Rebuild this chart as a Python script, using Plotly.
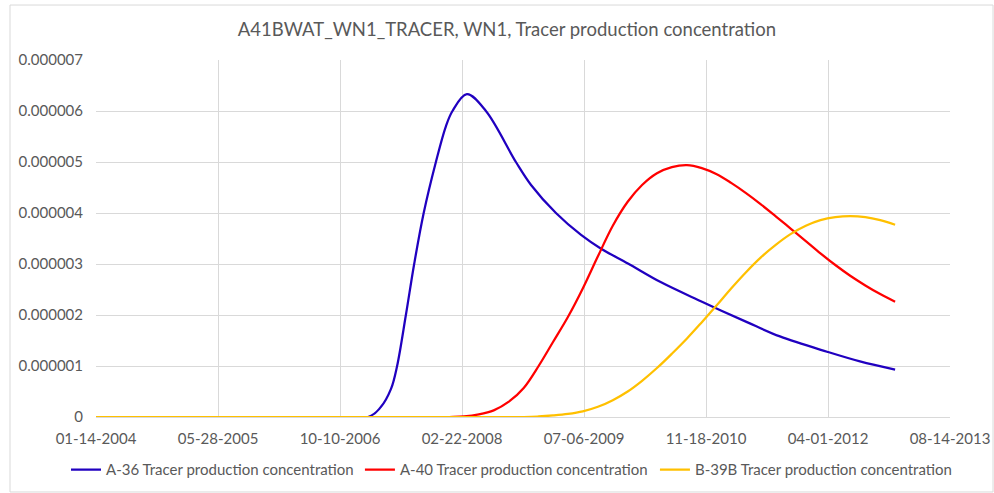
import plotly.graph_objects as go

# Tracer concentrations (values in 1e-6)
a36_dates = ["2004-01-14", "2007-02-02", "2007-03-27", "2007-05-07", "2007-06-01", "2007-07-07",
             "2007-08-10", "2007-09-18", "2007-11-07", "2007-12-18", "2008-01-14", "2008-03-13",
             "2008-05-30", "2008-09-30", "2008-12-01", "2009-03-13", "2009-06-24", "2009-09-14",
             "2010-01-02", "2010-05-18", "2010-10-28", "2011-05-05", "2011-09-17", "2012-03-28",
             "2012-08-10", "2013-01-01"]
a36_vals = [0, 0, 0.2, 0.55, 1.0, 2.0,
            3.0, 4.0, 5.0, 5.7, 6.0, 6.33,
            6.0, 5.0, 4.55, 4.0, 3.57, 3.3,
            3.01, 2.64, 2.27, 1.86, 1.58, 1.28,
            1.09, 0.93]

a40_dates = ["2004-01-14", "2008-01-01", "2008-03-01", "2008-05-01", "2008-07-01", "2008-09-01",
             "2008-11-01", "2009-01-01", "2009-03-01", "2009-05-01", "2009-07-01", "2009-09-01",
             "2009-11-01", "2010-01-01", "2010-03-01", "2010-05-01", "2010-07-01", "2010-09-01",
             "2010-11-01", "2011-01-01", "2011-03-01", "2011-05-01", "2011-07-01", "2011-09-01",
             "2011-11-01", "2012-01-01", "2012-03-01", "2012-05-01", "2012-07-01", "2012-09-01",
             "2012-11-01", "2013-01-01"]
a40_vals = [0, 0, 0.01, 0.05, 0.13, 0.3,
            0.57, 1.0, 1.47, 1.96, 2.52, 3.15,
            3.75, 4.22, 4.55, 4.78, 4.9, 4.94,
            4.88, 4.76, 4.59, 4.39, 4.17, 3.93,
            3.69, 3.45, 3.21, 2.98, 2.77, 2.58,
            2.41, 2.26]

b39b_dates = ["2004-01-14", "2008-11-01", "2009-01-01", "2009-03-01", "2009-05-01", "2009-07-01",
              "2009-09-01", "2009-11-01", "2010-01-01", "2010-03-01", "2010-05-01", "2010-07-01",
              "2010-09-01", "2010-11-01", "2011-01-01", "2011-03-01", "2011-05-01", "2011-07-01",
              "2011-09-01", "2011-11-01", "2012-01-01", "2012-03-01", "2012-05-01", "2012-07-01",
              "2012-09-01", "2012-11-01", "2013-01-01"]
b39b_vals = [0, 0, 0.01, 0.03, 0.06, 0.11,
             0.2, 0.33, 0.5, 0.71, 0.96, 1.24,
             1.54, 1.86, 2.19, 2.52, 2.84, 3.13,
             3.38, 3.59, 3.75, 3.86, 3.92, 3.94,
             3.92, 3.86, 3.77]

x_ticks = ["2004-01-14", "2005-05-28", "2006-10-10", "2008-02-22",
           "2009-07-06", "2010-11-18", "2012-04-01", "2013-08-14"]
x_labels = ["01-14-2004", "05-28-2005", "10-10-2006", "02-22-2008",
            "07-06-2009", "11-18-2010", "04-01-2012", "08-14-2013"]
y_ticks = [0, 1e-6, 2e-6, 3e-6, 4e-6, 5e-6, 6e-6, 7e-6]
y_labels = ["0", "0.000001", "0.000002", "0.000003", "0.000004", "0.000005", "0.000006", "0.000007"]

series = [
    ("A-36 Tracer production concentration", a36_dates, a36_vals, "#2000C0", "legend", 0.0664),
    ("A-40 Tracer production concentration", a40_dates, a40_vals, "#FF0000", "legend2", 0.3621),
    ("B-39B Tracer production concentration", b39b_dates, b39b_vals, "#FFC000", "legend3", 0.6589),
]

grey = "#595959"
fig = go.Figure()
legends = {}
for name, d, v, c, leg, lx in series:
    fig.add_trace(go.Scatter(
        x=d, y=[val * 1e-6 for val in v], name=name, mode="lines", legend=leg,
        line=dict(color=c, width=2.25, shape="spline", smoothing=1.0),
    ))
    legends[leg] = dict(orientation="h", xref="container", yref="container",
                        x=lx, xanchor="left", y=0.047, yanchor="middle",
                        font=dict(size=15, color=grey), itemwidth=30)

fig.update_layout(
    width=994, height=493,
    margin=dict(l=96, r=44, t=60, b=76),
    paper_bgcolor="white", plot_bgcolor="white",
    font=dict(family="Lato", size=15, color=grey),
    title=dict(text="A41BWAT_WN1_TRACER, WN1, Tracer production concentration",
               xref="container", x=0.510, xanchor="center", y=0.94, yanchor="middle",
               font=dict(size=18.5, color=grey)),
    showlegend=True,
    shapes=[dict(type="rect", xref="paper", yref="paper",
                 x0=-0.1007, x1=1.0504, y0=-0.21, y1=1.154,
                 line=dict(color="#d9d9d9", width=1), layer="below")],
    **legends,
)
fig.update_xaxes(
    type="date", range=["2004-01-14", "2013-08-14"],
    tickvals=x_ticks, ticktext=x_labels, automargin=False,
    showgrid=True, gridcolor="#d9d9d9", gridwidth=1,
    showline=True, linecolor="#d9d9d9", zeroline=False, ticks="",
    ticklabelstandoff=8,
)
fig.update_yaxes(
    range=[0, 7e-6], tickvals=y_ticks, ticktext=y_labels, automargin=False,
    showgrid=True, gridcolor="#d9d9d9", gridwidth=1,
    zeroline=False, showline=False, ticks="", ticklabelstandoff=12,
)

fig.write_html("out.html", config={"displayModeBar": False},
               post_script="document.body.style.margin='0';")
